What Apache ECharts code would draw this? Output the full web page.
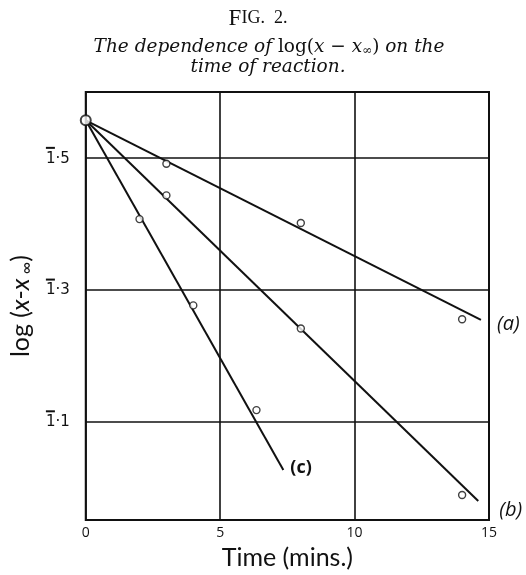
<!DOCTYPE html>
<html>
<head>
<meta charset="utf-8">
<script src="https://cdn.jsdelivr.net/npm/echarts@6/dist/echarts.min.js"></script>
<style>html,body{margin:0;padding:0;background:#fff;}#c{width:526px;height:575px;}</style>
</head>
<body>
<div id="c"></div>
<script>
// ---- data ----
var originTime = [0];
var originVal = [1.557];

var timeA = [3, 8, 14];
var valA = [1.491, 1.401, 1.255];
var timeB = [3, 8, 14];
var valB = [1.443, 1.241, 0.988];
var timeC = [2, 4, 6.35];
var valC = [1.407, 1.276, 1.117];

// fitted straight lines (start, end)
var fitTimeA = [0, 14.7];
var fitValA = [1.557, 1.254];
var fitTimeB = [0, 14.6];
var fitValB = [1.557, 0.979];
var fitTimeC = [0, 7.35];
var fitValC = [1.557, 1.026];

var curveNames = ['(a)', '(b)', '(c)'];
var xTicks = [0, 5, 10, 15];
var yTicks = [1.1, 1.3, 1.5];
var yTickLabels = ['1\u00b71', '1\u00b73', '1\u00b75'];

function pairs(xs, ys) { return xs.map(function (x, i) { return [x, ys[i]]; }); }

var labelCfg = [
  { offset: [8, 4], fontStyle: 'italic', fontWeight: 'normal', fontSize: 20 },
  { offset: [13, 9], fontStyle: 'italic', fontWeight: 'normal', fontSize: 20 },
  { offset: [-1, -2], fontStyle: 'normal', fontWeight: 'bold', fontSize: 18 }
];

function fitSeries(xs, ys, idx) {
  var c = labelCfg[idx];
  return {
    type: 'line', data: pairs(xs, ys), symbol: 'none', silent: true, z: 3,
    lineStyle: { color: '#111', width: 2 },
    endLabel: {
      show: true, formatter: curveNames[idx], offset: c.offset, distance: 8,
      color: '#111', fontSize: c.fontSize, fontFamily: 'Open Sans',
      fontStyle: c.fontStyle, fontWeight: c.fontWeight
    }
  };
}

var pointStyle = { color: '#fff', borderColor: '#111', borderWidth: 1.4 };

var chart = echarts.init(document.getElementById('c'), null, { renderer: 'canvas' });
chart.setOption({
  animation: false,
  backgroundColor: '#fff',
  title: [
    {
      text: '{b|F}{s|IG.  2.}', left: 253, top: 2, textAlign: 'center',
      textStyle: { fontWeight: 'normal', rich: {
        b: { fontFamily: 'Liberation Serif', fontWeight: 'normal', fontSize: 23, color: '#111' },
        s: { fontFamily: 'Liberation Serif', fontWeight: 'normal', fontSize: 18, color: '#111' }
      } }
    },
    {
      text: '{i|The dependence of }{n|log(}{i|x}{n| \u2212 }{i|x}{sub|\u221e}{n|)}{i| on the}',
      left: 264, top: 32, textAlign: 'center',
      textStyle: { fontWeight: 'normal', rich: {
        i: { fontFamily: 'DejaVu Serif', fontStyle: 'italic', fontWeight: 'normal', fontSize: 18.5, color: '#111' },
        n: { fontFamily: 'DejaVu Serif', fontWeight: 'normal', fontSize: 18.5, color: '#111' },
        sub: { fontFamily: 'DejaVu Serif', fontWeight: 'normal', fontSize: 12, color: '#111', padding: [8, 0, 0, 0] }
      } }
    },
    {
      text: 'time of reaction.', left: 263, top: 53, textAlign: 'center',
      textStyle: { fontFamily: 'DejaVu Serif', fontStyle: 'italic', fontWeight: 'normal', fontSize: 18.5, color: '#111' }
    }
  ],
  grid: { left: 85, top: 92, width: 404, height: 431, show: true, borderColor: '#111', borderWidth: 2, backgroundColor: 'transparent' },
  xAxis: {
    type: 'value', min: 0, max: 15, interval: 5,
    name: 'Time (mins.)', nameLocation: 'middle', nameGap: 24,
    nameTextStyle: { fontFamily: 'Lato', fontSize: 25, color: '#111' },
    axisLine: { show: false }, axisTick: { show: false },
    axisLabel: { fontFamily: 'Open Sans', fontSize: 14, color: '#111', margin: 6,
      customValues: xTicks },
    splitLine: { show: true, lineStyle: { color: '#111', width: 1.6 } }
  },
  yAxis: {
    type: 'value', min: 0.95, max: 1.6,
    name: '{n|log (}{i|x}{n|-}{i|x}{sub| \u221e}{n|)}', nameLocation: 'middle', nameGap: 50,
    nameTextStyle: { rich: {
      n: { fontFamily: 'Lato', fontSize: 25, color: '#111' },
      i: { fontFamily: 'Lato', fontStyle: 'italic', fontSize: 25, color: '#111' },
      sub: { fontFamily: 'Lato', fontSize: 17, color: '#111', padding: [12, 0, 0, 0] }
    } },
    axisLine: { show: false }, axisTick: { show: false },
    splitLine: { show: false },
    axisLabel: {
      customValues: yTicks, margin: 16, color: '#111',
      formatter: function (v) {
        for (var i = 0; i < yTicks.length; i++) {
          if (Math.abs(v - yTicks[i]) < 1e-6) return '{bar|}\n{n|' + yTickLabels[i] + '}';
        }
        return '';
      },
      rich: {
        bar: { width: 9, height: 2, lineHeight: 2, backgroundColor: '#111', align: 'left' },
        n: { fontFamily: 'DejaVu Sans', fontSize: 15, color: '#111', lineHeight: 20, align: 'right' }
      }
    }
  },
  series: [
    {
      type: 'line', data: [], silent: true,
      markLine: {
        silent: true, symbol: 'none', label: { show: false },
        lineStyle: { color: '#111', width: 1.6, type: 'solid' },
        data: yTicks.map(function (v) { return { yAxis: v }; })
      }
    },
    fitSeries(fitTimeA, fitValA, 0),
    fitSeries(fitTimeB, fitValB, 1),
    fitSeries(fitTimeC, fitValC, 2),
    { type: 'scatter', data: pairs(timeA, valA), symbol: 'circle', symbolSize: 7, itemStyle: pointStyle, z: 5 },
    { type: 'scatter', data: pairs(timeB, valB), symbol: 'circle', symbolSize: 7, itemStyle: pointStyle, z: 5 },
    { type: 'scatter', data: pairs(timeC, valC), symbol: 'circle', symbolSize: 7, itemStyle: pointStyle, z: 5 },
    { type: 'scatter', data: pairs(originTime, originVal), symbol: 'circle', symbolSize: 10,
      itemStyle: { color: '#fff', borderColor: '#111', borderWidth: 2 }, z: 6 }
  ]
});
</script>
</body>
</html>
